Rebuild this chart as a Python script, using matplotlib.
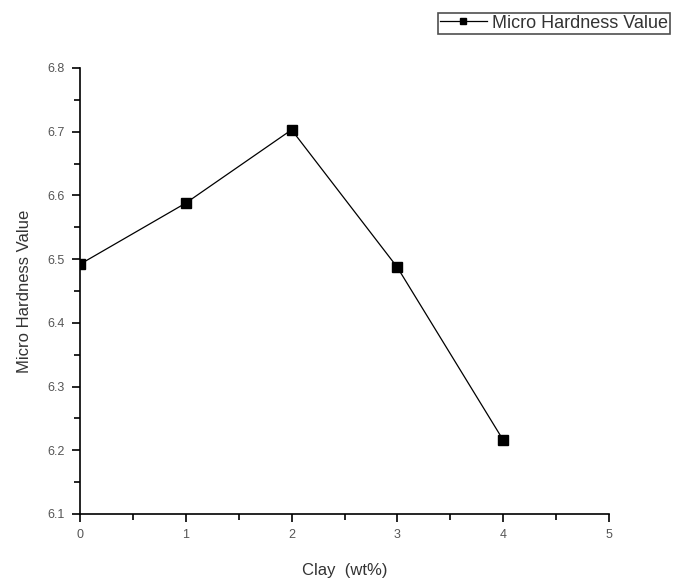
import matplotlib
matplotlib.use("Agg")
import matplotlib.pyplot as plt
from matplotlib.ticker import MultipleLocator

clay = [0, 1, 2, 3, 4]
hardness = [6.492, 6.588, 6.703, 6.487, 6.216]
series_label = "Micro Hardness Value"

plt.rcParams['font.family'] = ['Liberation Sans', 'DejaVu Sans']

fig = plt.figure(figsize=(6.73, 5.82), dpi=100)
ax = fig.add_axes([80/673, 1-514/582, (609-80)/673, (514-68)/582])

line, = ax.plot(clay, hardness, color='black', lw=0.9, marker='s', ms=7,
                markerfacecolor='black', label=series_label)

ax.set_xlim(0, 5)
ax.set_ylim(6.1, 6.8)
ax.xaxis.set_major_locator(MultipleLocator(1))
ax.xaxis.set_minor_locator(MultipleLocator(0.5))
ax.yaxis.set_major_locator(MultipleLocator(0.1))
ax.yaxis.set_minor_locator(MultipleLocator(0.05))
ax.yaxis.set_major_formatter(plt.FuncFormatter(lambda v, p: f"{v:.1f}"))

for s in ['top', 'right']:
    ax.spines[s].set_visible(False)
for s in ['left', 'bottom']:
    ax.spines[s].set_linewidth(1.2)

ax.tick_params(which='major', direction='out', length=6, width=1.2,
               labelsize=9, labelcolor='#555555', pad=5)
ax.tick_params(which='minor', direction='out', length=4, width=1.2)

ax.set_xlabel("Clay  (wt%)", fontsize=12, color='#333333', labelpad=16)
ax.set_ylabel("Micro Hardness Value", fontsize=12, color='#333333', labelpad=11)

leg = fig.legend(handles=[line], loc='upper right', bbox_to_anchor=(670/673, 1-13/582),
                 fontsize=13, frameon=True, fancybox=False, edgecolor='#222222',
                 handlelength=2.6, borderpad=0.1, handletextpad=0.3, borderaxespad=0,
                 markerscale=0.6)
leg.get_frame().set_linewidth(1.2)
for t in leg.get_texts():
    t.set_color('#333333')

fig.savefig("out.png", dpi=100)
